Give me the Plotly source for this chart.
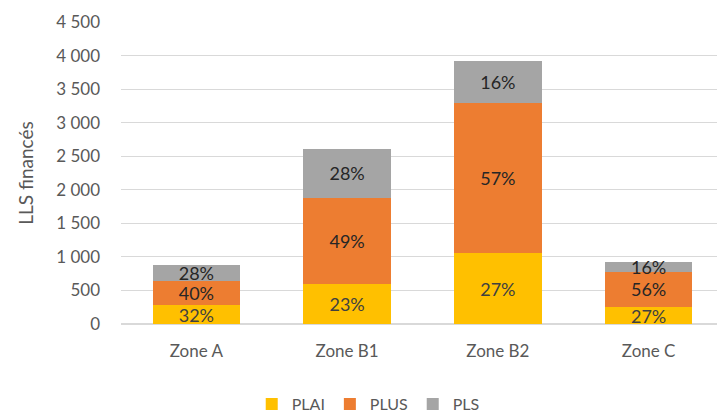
import plotly.graph_objects as go

zones = ["Zone A", "Zone B1", "Zone B2", "Zone C"]
plai = [282, 600, 1058, 253]
plus = [352, 1278, 2234, 526]
pls = [246, 730, 627, 150]
plai_lbl = ["32%", "23%", "27%", "27%"]
plus_lbl = ["40%", "49%", "57%", "56%"]
pls_lbl = ["28%", "28%", "16%", "16%"]
y_ticks = [0, 500, 1000, 1500, 2000, 2500, 3000, 3500, 4000, 4500]

FONT = "Lato"
fig = go.Figure()
for name, vals, lbls, col, tcol in [
    ("PLAI", plai, plai_lbl, "#FFC000", "#404040"),
    ("PLUS", plus, plus_lbl, "#ED7D31", "#262626"),
    ("PLS", pls, pls_lbl, "#A5A5A5", "#262626"),
]:
    fig.add_trace(go.Bar(
        x=zones, y=vals, name=name, marker=dict(color=col, line=dict(width=0)),
        text=lbls, textposition="inside", insidetextanchor="middle",
        constraintext="none", cliponaxis=False,
        textfont=dict(family=FONT, size=18, color=tcol), textangle=0,
        hoverinfo="skip",
    ))

fig.update_layout(
    barmode="stack", bargap=0.42,
    width=725, height=416,
    margin=dict(l=113, r=9, t=14, b=100, autoexpand=False),
    paper_bgcolor="white", plot_bgcolor="white",
    separators=", ",
    font=dict(family=FONT, color="#595959", size=16),
    legend=dict(orientation="h", x=0.41, xanchor="center", y=-0.265, yanchor="middle",
                font=dict(family=FONT, size=16, color="#595959"),
                itemwidth=30, traceorder="normal"),
    xaxis=dict(showline=False, ticks="", tickfont=dict(size=17, color="#595959"),
               ticklabelstandoff=15),
    yaxis=dict(range=[0, 4500], tickvals=y_ticks, tickformat=",d",
               gridcolor="#D9D9D9", gridwidth=1, zeroline=True, zerolinecolor="#D9D9D9",
               tickfont=dict(size=17, color="#595959"), ticklabelstandoff=20,
               title=dict(text="LLS financés", font=dict(size=19, color="#595959"), standoff=17)),
)
fig.write_html("out.html")
